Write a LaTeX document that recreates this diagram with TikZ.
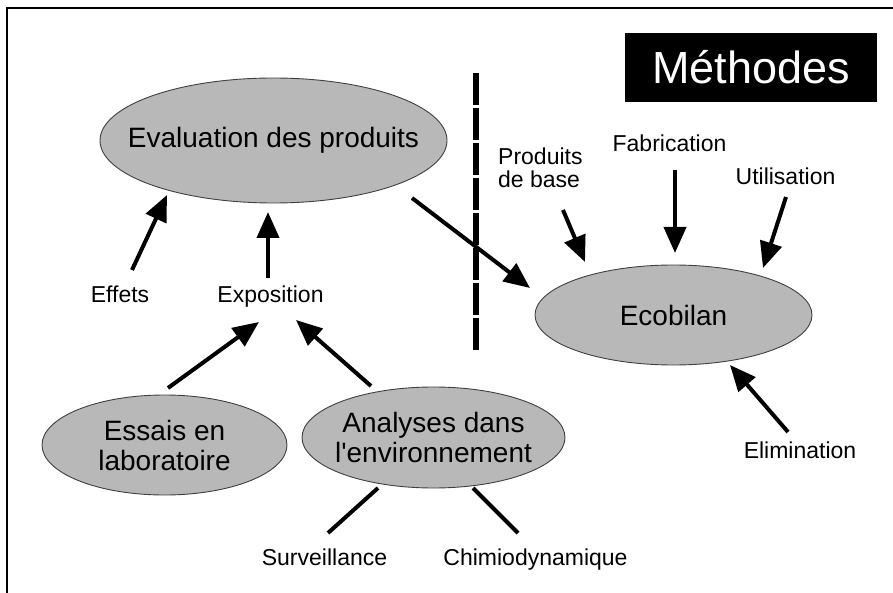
\documentclass[tikz,border=0pt]{standalone}
\usepackage{fontspec}
\setmainfont{Liberation Sans}
\usetikzlibrary{arrows.meta,shapes.geometric}
\begin{document}
\begin{tikzpicture}[x=1pt,y=-1pt,
  bubble/.style={ellipse, fill=black!28, draw=black!75, line width=0.9pt, inner sep=0pt},
  bubtext/.style={inner sep=0pt, align=center, font=\fontsize{28}{30}\selectfont},
  lbl/.style={inner sep=0pt, font=\fontsize{23}{23}\selectfont},
  arr/.style={line width=4pt, -{Triangle[length=26pt,width=22pt]}},
  bar/.style={line width=4pt},
  sep/.style={line width=6pt, dash pattern=on 32pt off 3pt},
  frame/.style={line width=1.8pt}
]
\useasboundingbox (0,0) rectangle (893,593);
% frame (top and left edges visible)
\draw[frame] (7,593) -- (7,8) -- (893,8);

% title
\node[fill=black, text=white, minimum width=252pt, minimum height=69pt, inner sep=0pt,
      text height=32pt, text depth=0pt, font=\fontsize{45}{45}\selectfont] (methodes) at (751,67.5) {Méthodes};

% ellipses
\node[bubble, minimum width=347pt, minimum height=125pt,
      label={[bubtext]center:Evaluation des produits}] (eval) at (273.5,140.5) {};
\node[bubble, minimum width=277pt, minimum height=100pt,
      label={[bubtext]center:Ecobilan}] (eco) at (673.5,315) {};
\node[bubble, minimum width=245pt, minimum height=100pt,
      label={[bubtext]center:Essais en\\laboratoire}] (essais) at (164.5,445) {};
\node[bubble, minimum width=263pt, minimum height=101pt,
      label={[bubtext]center:Analyses dans\\l\textquotesingle environnement}] (analyses) at (433.5,437.5) {};

% labels
\node[lbl, anchor=base] (effets) at (120,302) {Effets};
\node[lbl, anchor=base] (expo) at (270.5,302) {Exposition};
\node[lbl, anchor=west, align=left] (produits) at (498,168) {Produits\\de base};
\node[lbl, anchor=base] (fabrication) at (669.5,152) {Fabrication};
\node[lbl, anchor=base] (utilisation) at (785.5,185) {Utilisation};
\node[lbl, anchor=base] (elimination) at (800,458) {Elimination};
\node[lbl, anchor=base] (surveillance) at (324.5,565) {Surveillance};
\node[lbl, anchor=base] (chimio) at (535.5,565) {Chimiodynamique};

% dashed separator
\coordinate (septop) at (476,73);
\coordinate (sepbot) at (476,352);
\draw[sep] (septop) -- (sepbot);

% arrows
\draw[arr] ([shift={(12,-32)}]effets.base) -- ([shift={(-106.5,54.5)}]eval.center);
\draw[arr] ([shift={(-2.5,-24)}]expo.base) -- ([shift={(-5.5,71.5)}]eval.center);
\draw[arr] ([shift={(138.5,57.5)}]eval.center) -- ([shift={(-143.5,-27)}]eco.center);
\draw[arr] ([shift={(65,42)}]produits.west) -- ([shift={(-88.5,-53)}]eco.center);
\draw[arr] ([shift={(5.5,18)}]fabrication.base) -- ([shift={(1.5,-62)}]eco.center);
\draw[arr] ([shift={(0.5,12)}]utilisation.base) -- ([shift={(89.5,-47)}]eco.center);
\draw[arr] ([shift={(-12,-26)}]elimination.base) -- ([shift={(56.5,50)}]eco.center);
\draw[arr] ([shift={(3.5,-57)}]essais.center) -- ([shift={(-11.5,20)}]expo.base);
\draw[arr] ([shift={(-62.5,-51.5)}]analyses.center) -- ([shift={(25.5,18)}]expo.base);
\draw[bar] ([shift={(-55.5,50.5)}]analyses.center) -- ([shift={(3.5,-32)}]surveillance.base);
\draw[bar] ([shift={(39.5,50.5)}]analyses.center) -- ([shift={(-17.5,-32)}]chimio.base);
\end{tikzpicture}
\end{document}
